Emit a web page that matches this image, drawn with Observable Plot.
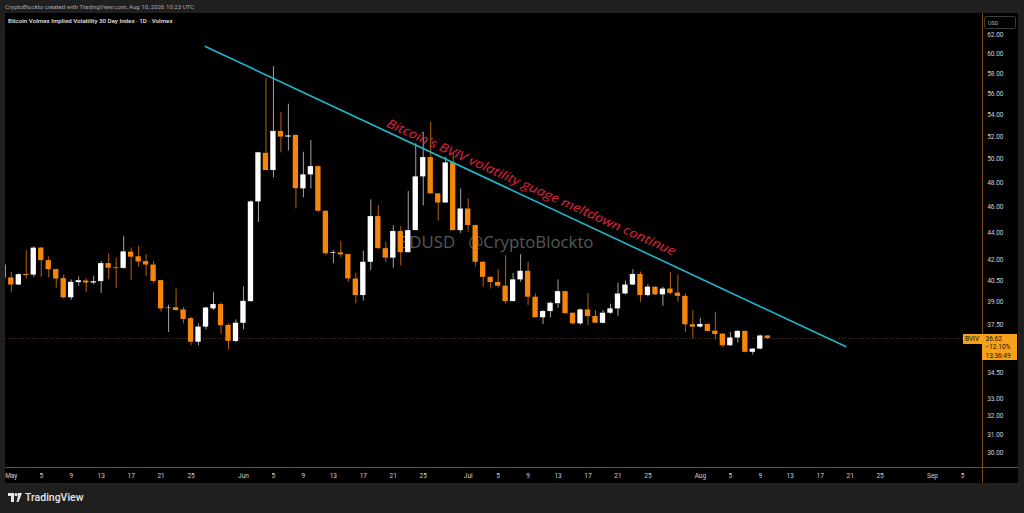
<!DOCTYPE html>
<html><head><meta charset="utf-8">
<script src="https://cdn.jsdelivr.net/npm/d3@7"></script>
<script src="https://cdn.jsdelivr.net/npm/@observablehq/plot@0.6"></script>
<style>
html,body{margin:0;padding:0;background:#1f1f1f;width:1024px;height:513px;overflow:hidden;font-family:Roboto,"Open Sans",sans-serif;}
#wrap{position:relative;width:1024px;height:513px;}
.abs{position:absolute;white-space:nowrap;}
#panel{left:5px;top:13px;width:1013px;height:470px;background:#000;}
#header{left:5px;top:3px;font-size:6.1px;color:#a8a8a8;}
#title{left:8px;top:17.3px;font-size:6.2px;color:#e4e4e4;font-weight:500;}
.sep{background:#7d4d10;}
#usd{left:984px;top:15.5px;width:32px;height:13px;border:1px solid #3a3a3a;border-radius:2px;box-sizing:border-box;font-size:5.5px;color:#b0b0b0;padding-left:3px;line-height:12px;}
.plabel{background:#f7a01a;color:#1a1306;font-size:6.5px;box-sizing:border-box;}
#footer{left:8px;top:491px;font-size:10.5px;color:#e6e6e6;font-weight:500;display:flex;align-items:center;gap:3px;}
</style></head><body>
<div id="wrap">
  <div id="header" class="abs">CryptoBlockto created with TradingView.com, Aug 10, 2026 10:23 UTC</div>
  <div id="panel" class="abs"></div>
  <div id="chart" class="abs" style="left:0;top:0"></div>
  <div class="abs sep" style="left:981.5px;top:13px;width:1px;height:470px"></div>
  <div class="abs sep" style="left:5px;top:466.5px;width:1013px;height:1px"></div>
  <div id="title" class="abs">Bitcoin Volmex Implied Volatility 30 Day Index · 1D · Volmex</div>
  <div id="usd" class="abs">USD</div>
  <div id="tag" class="abs plabel" style="left:962.5px;width:19.5px;height:10.5px;padding-left:2.5px;line-height:10.5px">BVIV</div>
  <div id="tagR" class="abs plabel" style="left:982px;width:35px;height:26px;padding-left:3.5px;padding-top:1px;line-height:8.4px"><div>36.62</div><div>−12.10%</div><div>13:36:49</div></div>
  <div id="footer" class="abs"><svg width="14" height="9" viewBox="0 0 14 9"><rect x="0" y="0" width="6" height="3" fill="#e6e6e6"/><rect x="3" y="0" width="3" height="9" fill="#e6e6e6"/><circle cx="8" cy="1.6" r="1.6" fill="#e6e6e6"/><polygon points="10,0 14,0 10.5,9 8.5,9 9.6,5" fill="#e6e6e6"/></svg><span>TradingView</span></div>
</div>
<script>
// ---- data ----
const dates = [
"2026-04-30",
"2026-05-01","2026-05-02","2026-05-03","2026-05-04","2026-05-05","2026-05-06","2026-05-07","2026-05-08","2026-05-09","2026-05-10",
"2026-05-11","2026-05-12","2026-05-13","2026-05-14","2026-05-15","2026-05-16","2026-05-17","2026-05-18","2026-05-19","2026-05-20",
"2026-05-21","2026-05-22","2026-05-23","2026-05-24","2026-05-25","2026-05-26","2026-05-27","2026-05-28","2026-05-29","2026-05-30","2026-05-31",
"2026-06-01","2026-06-02","2026-06-03","2026-06-04","2026-06-05","2026-06-06","2026-06-07","2026-06-08","2026-06-09","2026-06-10",
"2026-06-11","2026-06-12","2026-06-13","2026-06-14","2026-06-15","2026-06-16","2026-06-17","2026-06-18","2026-06-19","2026-06-20",
"2026-06-21","2026-06-22","2026-06-23","2026-06-24","2026-06-25","2026-06-26","2026-06-27","2026-06-28","2026-06-29","2026-06-30",
"2026-07-01","2026-07-02","2026-07-03","2026-07-04","2026-07-05","2026-07-06","2026-07-07","2026-07-08","2026-07-09","2026-07-10",
"2026-07-11","2026-07-12","2026-07-13","2026-07-14","2026-07-15","2026-07-16","2026-07-17","2026-07-18","2026-07-19","2026-07-20",
"2026-07-21","2026-07-22","2026-07-23","2026-07-24","2026-07-25","2026-07-26","2026-07-27","2026-07-28","2026-07-29","2026-07-30","2026-07-31",
"2026-08-01","2026-08-02","2026-08-03","2026-08-04","2026-08-05","2026-08-06","2026-08-07","2026-08-08","2026-08-09","2026-08-10"];
const opens = [41.6,
40.68,40.18,40.92,40.88,42.84,41.92,41.27,40.63,39.3,40.35,
40.46,40.32,40.42,41.7,41.4,41.36,42.54,42.2,41.85,41.6,
40.49,38.57,38.63,38.48,37.9,36.38,37.35,38.55,38.84,37.46,36.43,
37.6,39.04,46.42,50.5,49.02,52.46,51.95,52.1,47.48,48.65,
49.35,45.67,42.45,42.49,42.36,40.6,39.45,41.8,45.25,42.8,
42.1,44.09,42.5,44.16,48.48,50.13,47.07,46.33,49.67,44.16,
45.85,44.55,41.8,40.72,40.36,40.1,39.04,40.54,41.15,39.34,
37.96,38.37,38.9,39.72,38.26,37.56,38.48,38.04,37.6,38.26,
38.55,39.56,40.18,40.92,39.45,40.03,39.5,39.9,39.62,39.4,37.5,
37.35,37.52,37.09,36.9,36.16,36.65,37.07,35.75,35.95,36.78];
const highs = [41.9,
41.08,40.96,42.66,42.92,42.9,42.2,41.3,40.88,40.54,40.75,
40.6,40.8,41.85,42.4,42.1,43.7,42.85,42.97,42.36,41.85,
40.49,38.8,39.9,38.65,38.0,37.56,38.65,39.65,38.94,37.56,37.82,
40.05,46.5,50.6,57.5,58.7,54.2,55.0,52.15,50.6,51.64,
49.4,45.7,42.66,43.35,42.4,41.0,42.6,46.58,46.13,43.28,
44.55,44.47,47.26,51.35,52.4,53.3,47.1,50.17,50.47,47.47,
46.66,44.6,41.85,40.75,41.25,42.27,41.0,42.36,41.8,39.56,
38.44,39.0,40.54,39.75,38.28,38.55,39.6,38.44,38.44,38.87,
40.3,40.45,41.27,41.1,40.2,40.05,40.03,41.05,40.88,39.56,38.44,
37.92,37.55,38.33,36.92,37.0,37.13,37.1,35.98,36.83,36.8];
const lows = [40.5,
39.63,40.14,40.61,40.72,40.72,40.66,39.95,39.23,39.13,40.1,
39.63,40.2,39.6,40.56,39.95,41.3,40.49,41.44,40.77,40.27,
38.33,37.0,38.4,37.56,36.16,36.16,37.17,38.44,36.87,35.9,36.35,
37.17,39.0,44.8,49.0,48.4,50.55,50.7,45.85,46.75,47.48,
45.6,42.3,41.7,42.1,40.37,38.9,39.07,41.2,42.75,41.8,
41.37,41.55,42.5,44.16,46.1,47.07,44.9,46.3,44.16,43.95,
44.05,41.45,40.03,39.9,39.98,38.9,39.04,40.37,38.78,37.96,
37.52,37.96,38.6,38.2,37.5,37.48,37.46,37.6,37.55,38.18,
38.04,39.5,40.15,39.0,39.36,39.45,38.72,39.5,39.0,37.0,36.6,
37.28,37.04,36.55,36.03,36.1,36.33,35.72,35.58,35.92,36.55];
const closes = [40.66,
40.18,40.91,40.85,42.84,41.92,41.27,40.6,39.3,40.37,40.48,
40.32,40.41,41.7,41.37,41.35,42.56,42.17,41.82,41.6,40.43,
38.55,38.6,38.44,37.85,36.38,37.35,38.61,38.84,37.44,36.44,37.6,
39.06,46.42,50.55,49.02,52.46,51.95,52.05,47.5,48.65,49.35,
45.67,42.42,42.5,42.34,40.61,39.45,41.8,45.25,42.8,42.1,
44.09,42.5,44.16,48.48,50.13,47.07,46.33,49.67,44.16,45.85,
44.55,41.8,40.72,40.36,40.1,39.04,40.54,41.15,39.34,37.96,
38.37,38.93,39.72,38.23,37.56,38.48,38.04,37.6,38.26,38.55,
39.56,40.18,40.92,39.45,40.03,39.5,39.9,39.6,39.4,37.5,37.35,
37.52,37.07,36.87,36.16,36.65,37.07,35.75,35.95,36.78,36.62];
const lastPrice = 36.62;
const yTicks = [62,60,58,56,54,52,50,48,46,44,42,40.5,39,37.5,34.5,33,32,31,30];
const xTickDates = ["2026-05-01","2026-05-05","2026-05-09","2026-05-13","2026-05-17","2026-05-21","2026-05-25",
"2026-06-01","2026-06-05","2026-06-09","2026-06-13","2026-06-17","2026-06-21","2026-06-25",
"2026-07-01","2026-07-05","2026-07-09","2026-07-13","2026-07-17","2026-07-21","2026-07-25",
"2026-08-01","2026-08-05","2026-08-09","2026-08-13","2026-08-17","2026-08-21","2026-08-25",
"2026-09-01","2026-09-05"];
const trendDates = ["2026-05-26T21:36Z","2026-08-20T09:36Z"];
const trendValues = [60.8, 36.11];
const noteText = "Bitcoin's BVIV volatility guage meltdown continue";
const noteDate = "2026-07-09T09:50Z";
const noteValue = 47.6;
const watermarkText = "SDUSD\u00a0\u00a0\u00a0@CryptoBlockto";
const watermarkDate = "2026-07-17T17:31Z";
const watermarkValue = 43.26;

// ---- build ----
const parse = d3.utcParse("%Y-%m-%d");
const DAY = 864e5;
const candles = dates.map((d,i)=>({date: parse(d), open: opens[i], high: highs[i], low: lows[i], close: closes[i]}));
const trend = trendDates.map((d,i)=>({date: new Date(d), value: trendValues[i]}));
const xTicks = xTickDates.map(parse);
const may1 = Date.UTC(2026,4,1);
const xDomain = [new Date(may1 - 0.774*DAY), new Date(may1 + 129.67*DAY)];
const up = d => d.close >= d.open;

const chart = Plot.plot({
  width: 1024, height: 513,
  marginLeft: 5, marginRight: 42, marginTop: 13, marginBottom: 46,
  style: {background: "transparent", color: "#d0d0d0", fontFamily: "Roboto, sans-serif", fontSize: "6.5px"},
  x: {type: "utc", domain: xDomain},
  y: {type: "log", domain: [29.27, 64.38]},
  marks: [
    Plot.text([0], {x: () => new Date(watermarkDate), y: () => watermarkValue, text: () => watermarkText,
      textAnchor: "end", fontSize: 16.8, fill: "#575757", fontFamily: "Open Sans, sans-serif"}),
    Plot.ruleY([lastPrice], {stroke: "#5a3a12", strokeDasharray: "1,2", strokeWidth: 1}),
    Plot.ruleX(candles, {x: "date", y1: "low", y2: "high", stroke: d => up(d) ? "#a3a3a3" : "#b5620c", strokeWidth: 1, clip: true}),
    Plot.rect(candles, {
      x1: d => new Date(+d.date - 0.355*DAY), x2: d => new Date(+d.date + 0.355*DAY),
      y1: d => Math.min(d.open, d.close), y2: d => Math.max(d.open, d.close),
      fill: d => up(d) ? "#ffffff" : "#f7850a", clip: true}),
    Plot.line(trend, {x: "date", y: "value", stroke: "#1cb7cc", strokeWidth: 1.6}),
    Plot.text([0], {x: () => new Date(noteDate), y: () => noteValue, text: () => noteText,
      rotate: 24.2, textAnchor: "middle", fontSize: 12.5, fontStyle: "italic", fill: "#e0233f",
      fontFamily: "Open Sans, sans-serif", className: "note"}),
    Plot.axisY({anchor: "right", ticks: yTicks, tickFormat: d3.format(".2f"), tickSize: 0, tickPadding: 4.7, fill: "#d2d2d2"}),
    Plot.axisX({anchor: "bottom", ticks: xTicks, tickSize: 0, tickPadding: 5.7, fill: "#d2d2d2",
      tickFormat: d => d.getUTCDate() === 1 ? d3.utcFormat("%b")(d) : String(d.getUTCDate())})
  ]
});
document.getElementById("chart").appendChild(chart);
const noteEl = chart.querySelector(".note text");
if (noteEl) { noteEl.setAttribute("textLength", "315"); noteEl.setAttribute("lengthAdjust", "spacingAndGlyphs"); }
const py = chart.scale("y").apply(lastPrice);
document.getElementById("tag").style.top = (py - 4) + "px";
document.getElementById("tagR").style.top = (py - 4) + "px";
</script>
</body></html>
